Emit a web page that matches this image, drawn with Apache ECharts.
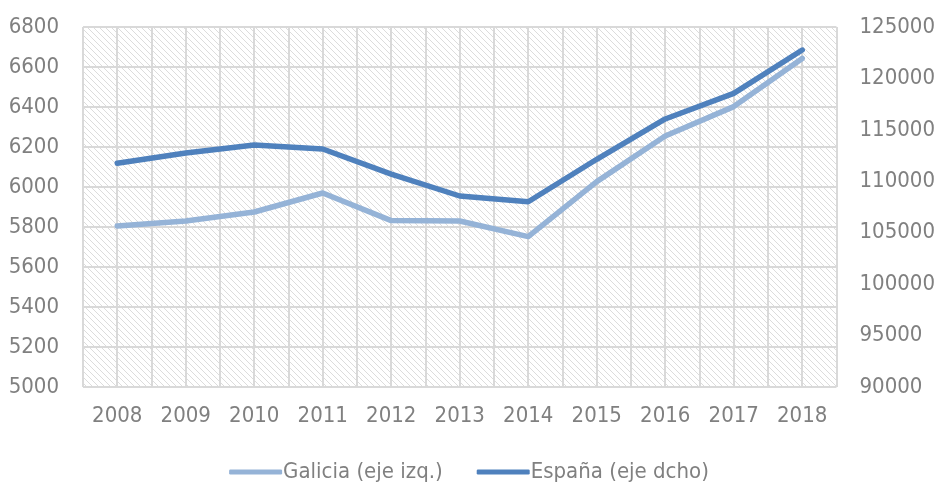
<!DOCTYPE html>
<html><head><meta charset="utf-8">
<script src="https://cdn.jsdelivr.net/npm/echarts@6/dist/echarts.min.js"></script>
<style>html,body{margin:0;padding:0;background:#fff}#c{width:938px;height:485px}</style>
</head><body><div id="c"></div>
<script>
const years = ['2008','2009','2010','2011','2012','2013','2014','2015','2016','2017','2018'];
const galicia = [5805, 5830, 5875, 5970, 5832, 5830, 5752, 6027, 6255, 6402, 6643];
const espana = [111750, 112750, 113530, 113140, 110700, 108570, 108010, 112140, 116060, 118550, 122760];
const seriesNames = ['Galicia (eje izq.)', 'España (eje dcho)'];

const FONT = "'Liberation Sans Narrow','DejaVu Sans Condensed','Liberation Sans',sans-serif";
const GRAY = '#808080';
const GRID = '#d9d9d9';

const pc = document.createElement('canvas');
pc.width = 6; pc.height = 6;
const ctx = pc.getContext('2d');
ctx.fillStyle = '#ffffff'; ctx.fillRect(0,0,6,6);
ctx.fillStyle = '#dcdcdc';
for (let i = 0; i < 6; i++) { ctx.fillRect(i, i, 1, 1); }

const plain = v => String(v);

const chart = echarts.init(document.getElementById('c'));
chart.setOption({
  animation: false,
  backgroundColor: '#ffffff',
  textStyle: { fontFamily: FONT },
  grid: { left: 83, right: 96, top: 27, bottom: 98, show: true,
          backgroundColor: { image: pc, repeat: 'repeat' }, borderWidth: 0 },
  legend: {
    top: 456, left: 'center', itemWidth: 53, itemHeight: 5, itemGap: 34,
    icon: 'roundRect',
    data: seriesNames,
    textStyle: { fontFamily: FONT, fontSize: 22, color: GRAY, padding: [0,0,0,-4] }
  },
  xAxis: [
    { type: 'category', data: years, boundaryGap: true,
      axisLine: { show: false }, axisTick: { show: false }, splitLine: { show: false },
      axisLabel: { margin: 18, fontFamily: FONT, fontSize: 22, color: GRAY } },
    { type: 'value', min: 0, max: 22, interval: 1, position: 'bottom',
      axisLine: { show: false }, axisTick: { show: false }, axisLabel: { show: false },
      splitLine: { show: true, lineStyle: { color: GRID, width: 2 } } }
  ],
  yAxis: [
    { type: 'value', min: 5000, max: 6800, interval: 200,
      axisLine: { show: false }, axisTick: { show: false },
      axisLabel: { margin: 24, fontFamily: FONT, fontSize: 22, color: GRAY, formatter: plain },
      splitLine: { show: true, lineStyle: { color: GRID, width: 2 } } },
    { type: 'value', min: 90000, max: 125000, interval: 5000, position: 'right',
      axisLine: { show: false }, axisTick: { show: false },
      axisLabel: { margin: 23, fontFamily: FONT, fontSize: 22, color: GRAY, formatter: plain },
      splitLine: { show: false } }
  ],
  series: [
    { name: seriesNames[0], type: 'line', xAxisIndex: 0, yAxisIndex: 0, data: galicia,
      symbol: 'none', color: '#95b3d7', lineStyle: { width: 5.5, color: '#95b3d7', cap: 'round', join: 'round' } },
    { name: seriesNames[1], type: 'line', xAxisIndex: 0, yAxisIndex: 1, data: espana,
      symbol: 'none', color: '#4f81bd', lineStyle: { width: 5.5, color: '#4f81bd', cap: 'round', join: 'round' } }
  ]
});
</script>
</body></html>
